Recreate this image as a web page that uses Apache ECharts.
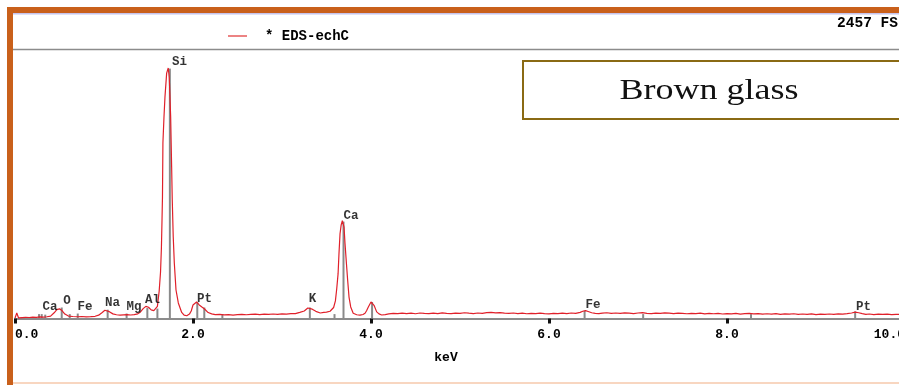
<!DOCTYPE html>
<html>
<head>
<meta charset="utf-8">
<script src="https://cdn.jsdelivr.net/npm/echarts@6/dist/echarts.min.js"></script>
<style>
  html, body { margin: 0; padding: 0; background: #ffffff; }
  #chart { width: 899px; height: 385px; }
</style>
</head>
<body>
<div id="chart"></div>
<script>
// EDS spectrum of a brown glass sample: energy (keV) vs counts
const energyKeV = [
  0.00, 0.02, 0.04, 0.08, 0.12, 0.16, 0.20, 0.24, 0.28, 0.32, 0.36, 0.40, 0.44, 0.47, 0.50, 0.53, 0.56, 0.60,
  0.65, 0.70, 0.75, 0.80, 0.85, 0.90, 0.94, 0.98, 1.01, 1.03, 1.06, 1.10, 1.14, 1.18, 1.22, 1.26, 1.30, 1.34,
  1.38, 1.41, 1.44, 1.47, 1.50, 1.53, 1.56, 1.58, 1.60, 1.62, 1.635, 1.645, 1.652, 1.657, 1.662, 1.674, 1.685,
  1.704, 1.722, 1.733, 1.749, 1.760, 1.767, 1.778, 1.790, 1.809, 1.835, 1.873, 1.90, 1.93, 1.96, 1.98, 2.00,
  2.02, 2.04, 2.07, 2.10, 2.13, 2.17, 2.21, 2.25, 2.30, 2.35, 2.40, 2.45, 2.50, 2.55, 2.60, 2.65, 2.70, 2.75,
  2.80, 2.85, 2.90, 2.95, 3.00, 3.05, 3.10, 3.15, 3.20, 3.25, 3.29, 3.31, 3.34, 3.38, 3.43, 3.47, 3.50, 3.54,
  3.56, 3.58, 3.60, 3.615, 3.63, 3.64, 3.652, 3.665, 3.678, 3.697, 3.708, 3.727, 3.738, 3.753, 3.772, 3.80,
  3.84, 3.876, 3.91, 3.933, 3.95, 3.97, 4.00, 4.034, 4.064, 4.09, 4.12, 4.16,
  4.20, 4.25, 4.30, 4.35, 4.40, 4.45, 4.50, 4.55, 4.60, 4.65, 4.70, 4.75, 4.80, 4.85, 4.90, 4.95, 5.00, 5.05,
  5.10, 5.15, 5.20, 5.25, 5.30, 5.35, 5.40, 5.45, 5.50, 5.55, 5.60, 5.65, 5.70, 5.75, 5.80, 5.85, 5.90, 5.95,
  6.00, 6.05, 6.10, 6.15, 6.20, 6.25, 6.30, 6.35, 6.38, 6.41, 6.44, 6.48, 6.52, 6.56, 6.60, 6.65, 6.70, 6.75,
  6.80, 6.85, 6.90, 6.95, 7.00, 7.05, 7.10, 7.15, 7.20, 7.25, 7.30, 7.35, 7.40, 7.45, 7.50, 7.55, 7.60, 7.65,
  7.70, 7.75, 7.80, 7.85, 7.90, 7.95, 8.00, 8.05, 8.10, 8.15, 8.20, 8.25, 8.30, 8.35, 8.40, 8.45, 8.50, 8.55,
  8.60, 8.65, 8.70, 8.75, 8.80, 8.85, 8.90, 8.95, 9.00, 9.05, 9.10, 9.15, 9.20, 9.25, 9.30, 9.35, 9.40, 9.44,
  9.48, 9.52, 9.56, 9.60, 9.65, 9.70, 9.75, 9.80, 9.85, 9.90, 9.95, 10.00, 10.05
];
const counts = [
  5, 50, 5, 8, 10, 9, 12, 11, 14, 13, 16, 22, 52, 80, 88, 70, 40, 22,
  18, 16, 18, 15, 17, 20, 30, 55, 75, 80, 62, 42, 34, 30, 33, 36, 32, 35,
  42, 60, 90, 110, 102, 78, 72, 70, 110, 250, 420, 640, 900, 1103, 1594, 1830, 2011,
  2229, 2275, 2193, 1830, 1376, 1076, 740, 504, 259, 141, 55, 30, 25, 40, 68, 123,
  141, 150, 123, 104, 86, 54, 42, 36, 38, 33, 36, 31, 35, 38, 34, 37, 40, 36,
  39, 37, 41, 38, 42, 40, 44, 45, 55, 68, 95, 102, 85, 65, 50, 55, 58, 66,
  75, 100, 160, 270, 405, 585, 770, 850, 888, 830, 680, 465, 345, 195, 105, 48,
  34, 30, 36, 48, 70, 105, 150, 120, 60, 42, 32, 36,
  42, 47, 44, 49, 45, 48, 43, 50, 46, 44, 49, 45, 51, 47, 44, 49, 46, 52,
  48, 45, 50, 47, 53, 56, 51, 54, 48, 46, 50, 45, 48, 43, 47, 44, 49, 45,
  42, 46, 44, 48, 45, 50, 47, 56, 66, 72, 64, 52, 47, 44, 48, 52, 47, 50,
  46, 51, 48, 45, 50, 53, 47, 45, 49, 46, 51, 48, 44, 49, 46, 43, 47, 44,
  48, 42, 46, 43, 47, 41, 45, 42, 46, 40, 44, 47, 42, 45, 39, 43, 40, 44,
  38, 42, 39, 43, 37, 41, 38, 42, 36, 40, 37, 41, 38, 42, 39, 44, 50, 58,
  52, 44, 38, 41, 36, 40, 37, 39, 35, 38, 36, 39, 35
];

// Element line markers: energy (keV) and marker height (counts)
const markerEnergy = [0.27, 0.30, 0.34, 0.525, 0.615, 0.705, 1.041, 1.254, 1.487, 1.60, 1.74, 2.048, 2.127, 2.33,
  3.313, 3.59, 3.691, 4.012, 6.40, 7.058, 8.27, 9.44];
const markerHeight = [40, 40, 35, 100, 40, 45, 80, 45, 95, 90, 2270, 150, 100, 40,
  100, 40, 880, 150, 70, 40, 40, 65];

// Element annotations: symbol, label energy (keV), label height (counts)
const elementNames = ['Ca', 'O', 'Fe', 'Na', 'Mg', 'Al', 'Si', 'Pt', 'K', 'Ca', 'Fe', 'Pt'];
const elementEnergy = [0.393, 0.584, 0.787, 1.096, 1.337, 1.545, 1.848, 2.129, 3.343, 3.775, 6.494, 9.534];
const elementHeight = [107, 159, 109, 141, 104, 168, 2334, 177, 177, 931, 123, 109];

const xTicks = [0, 2, 4, 6, 8, 10];
const fullScale = 2457;
const seriesName = '* EDS-echC';
const sampleName = 'Brown glass';

const monoFont = '"Liberation Mono", "Courier New", monospace';
const ink = '#000000';

const chart = echarts.init(document.getElementById('chart'), null, { renderer: 'canvas' });

chart.setOption({
  animation: false,
  backgroundColor: '#ffffff',
  grid: { left: 15, width: 890, top: 48, bottom: 66.5, containLabel: false, outerBoundsMode: 'none' },
  legend: {
    data: [{ name: seriesName, icon: 'rect' }],
    left: 228,
    top: 29,
    padding: 0,
    itemWidth: 19,
    itemHeight: 1.5,
    itemStyle: { color: '#e65a5a' },
    textStyle: { fontFamily: monoFont, fontWeight: 'bold', fontSize: 14, color: ink, padding: [0, 0, 0, 13] }
  },
  xAxis: {
    type: 'value',
    min: xTicks[0],
    max: xTicks[xTicks.length - 1],
    interval: 2,
    name: 'keV',
    nameLocation: 'middle',
    nameGap: 33,
    nameTextStyle: { fontFamily: monoFont, fontWeight: 'bold', fontSize: 13, color: ink, padding: [0, 28, 0, 0] },
    axisLine: { show: true, lineStyle: { color: '#8c8c8c', width: 2 } },
    axisTick: { show: true, length: 5, inside: false, lineStyle: { color: '#111111', width: 3 } },
    axisLabel: {
      margin: 10,
      fontFamily: monoFont,
      fontWeight: 'bold',
      fontSize: 13,
      color: ink,
      alignMinLabel: 'left',
      alignMaxLabel: 'right',
      formatter: v => v.toFixed(1)
    },
    splitLine: { show: false }
  },
  yAxis: {
    type: 'value',
    min: 0,
    max: fullScale,
    show: false,
    splitLine: { show: false }
  },
  series: [
    {
      name: 'markers',
      type: 'bar',
      barWidth: 2,
      z: 1,
      silent: true,
      itemStyle: { color: '#8a8a8a' },
      data: markerEnergy.map((e, i) => [e, markerHeight[i]])
    },
    {
      name: seriesName,
      type: 'line',
      z: 2,
      showSymbol: false,
      symbol: 'none',
      silent: true,
      lineStyle: { color: '#e0202a', width: 1.2 },
      itemStyle: { color: '#e65a5a' },
      data: energyKeV.map((e, i) => [e, counts[i]])
    },
    {
      name: 'elements',
      type: 'scatter',
      z: 3,
      symbolSize: 0,
      silent: true,
      label: {
        show: true,
        position: 'inside',
        formatter: p => p.name,
        fontFamily: monoFont,
        fontWeight: 'bold',
        fontSize: 12.5,
        color: ink
      },
      data: elementNames.map((n, i) => ({ name: n, value: [elementEnergy[i], elementHeight[i]] }))
    }
  ],
  graphic: [
    // orange frame (top and left edges)
    { type: 'rect', shape: { x: 7, y: 7, width: 892, height: 6 }, style: { fill: '#c9601b' }, silent: true },
    { type: 'rect', shape: { x: 7, y: 7, width: 6, height: 378 }, style: { fill: '#c9601b' }, silent: true },
    { type: 'rect', shape: { x: 13, y: 13, width: 886, height: 1.5 }, style: { fill: '#c6c4ec' }, silent: true },
    { type: 'rect', shape: { x: 13, y: 382, width: 886, height: 2 }, style: { fill: '#f8d6c0' }, silent: true },
    // header separator
    { type: 'line', shape: { x1: 13, y1: 49.5, x2: 899, y2: 49.5 }, style: { stroke: '#8c8c8c', lineWidth: 1.5 }, silent: true },
    // full-scale readout
    {
      type: 'text', x: 898, y: 23, silent: true,
      style: { text: fullScale + ' FS', align: 'right', verticalAlign: 'middle', font: 'bold 14.5px ' + monoFont, fill: ink }
    },
    // sample name box
    {
      type: 'rect', shape: { x: 523, y: 61, width: 400, height: 58 },
      style: { fill: '#ffffff', stroke: '#8a6a14', lineWidth: 2 }, silent: true, z: 10
    },
    {
      type: 'text', x: 709, y: 91, scaleX: 1.2, silent: true, z: 11,
      style: { text: sampleName, align: 'center', verticalAlign: 'middle', font: '30px "Liberation Serif", "Times New Roman", serif', fill: '#111111' }
    }
  ]
});
</script>
</body>
</html>
